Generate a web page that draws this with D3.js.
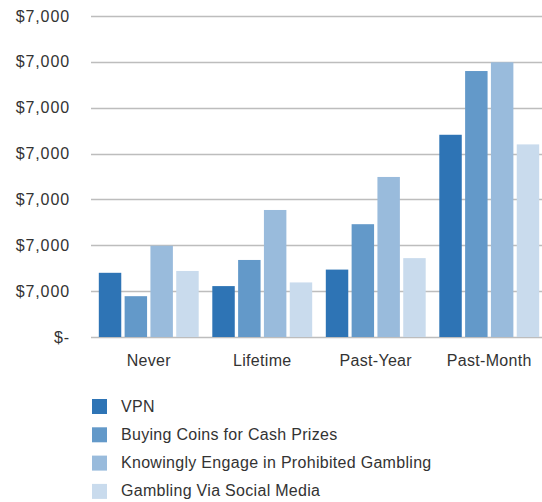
<!DOCTYPE html>
<html>
<head>
<meta charset="utf-8">
<style>
  body { margin: 0; background: #fff; }
  svg { display: block; font-family: "Liberation Sans", Arial, sans-serif; }
</style>
<script src="https://d3js.org/d3.v7.min.js"></script>
</head>
<body>
<svg id="chart" width="542" height="502"></svg>
<script>
// groups along x axis
var groups = ["Never", "Lifetime", "Past-Year", "Past-Month"];
var series = ["VPN", "Buying Coins for Cash Prizes", "Knowingly Engage in Prohibited Gambling", "Gambling Via Social Media"];
var colors = ["#2e74b5", "#6399c9", "#99bbdc", "#c9dbed"];

// values per series, one per group (gridline units)
var vpn       = [1.40, 1.11, 1.47, 4.41];
var coins     = [0.89, 1.68, 2.46, 5.80];
var knowingly = [1.99, 2.77, 3.49, 5.99];
var social    = [1.44, 1.19, 1.72, 4.20];

var tickValues = [0, 1, 2, 3, 4, 5, 6, 7];
var tickLabels = ["$-", "$7,000", "$7,000", "$7,000", "$7,000", "$7,000", "$7,000", "$7,000"];

var allValues = [vpn, coins, knowingly, social];

var svg = d3.select("#chart");

var y = d3.scaleLinear()
  .domain([0, 7])
  .range([337, 16]);

var x0 = d3.scaleBand()
  .domain(groups)
  .range([92, 546])
  .paddingInner(0.12)
  .paddingOuter(0.06);

var x1 = d3.scaleBand()
  .domain(series)
  .range([0, x0.bandwidth()])
  .paddingInner(0.13);

// gridlines + y labels
var yAxis = d3.axisLeft(y)
  .tickValues(tickValues)
  .tickFormat(function(d, i) { return tickLabels[i]; })
  .tickSize(0)
  .tickPadding(21);

var gy = svg.append("g")
  .attr("transform", "translate(91,0)")
  .call(yAxis);
gy.select(".domain").remove();
gy.selectAll("text")
  .style("font-size", "16px")
  .style("letter-spacing", "0.9px")
  .style("fill", "#333")
  .style("font-family", "Liberation Sans, Arial, sans-serif");

svg.append("g").selectAll("line")
  .data(tickValues)
  .enter().append("line")
  .attr("x1", 91)
  .attr("x2", 542)
  .attr("y1", function(d) { return Math.round(y(d)) + 0.5; })
  .attr("y2", function(d) { return Math.round(y(d)) + 0.5; })
  .style("stroke", "#bdbdbd")
  .style("stroke-width", 1.5);

// bars
var g = svg.append("g");
groups.forEach(function(grp, gi) {
  series.forEach(function(s, si) {
    var v = allValues[si][gi];
    g.append("rect")
      .attr("x", x0(grp) + x1(s))
      .attr("y", y(v))
      .attr("width", x1.bandwidth())
      .attr("height", y(0) - y(v))
      .style("fill", colors[si]);
  });
});

// x labels
var xAxis = d3.axisBottom(x0).tickSize(0).tickPadding(17);
var gx = svg.append("g")
  .attr("transform", "translate(0,338)")
  .call(xAxis);
gx.select(".domain").remove();
gx.selectAll("text")
  .style("font-size", "16px")
  .style("letter-spacing", "0.3px")
  .style("fill", "#333")
  .style("font-family", "Liberation Sans, Arial, sans-serif");

// legend
var legend = svg.append("g");
series.forEach(function(s, i) {
  var row = legend.append("g")
    .attr("transform", "translate(92," + (399 + i * 28.3) + ")");
  row.append("rect")
    .attr("width", 15)
    .attr("height", 15)
    .style("fill", colors[i]);
  row.append("text")
    .attr("x", 29)
    .attr("y", 12.5)
    .style("font-size", "16px")
    .style("letter-spacing", "0.3px")
    .style("fill", "#333")
    .text(s);
});
</script>
</body>
</html>
